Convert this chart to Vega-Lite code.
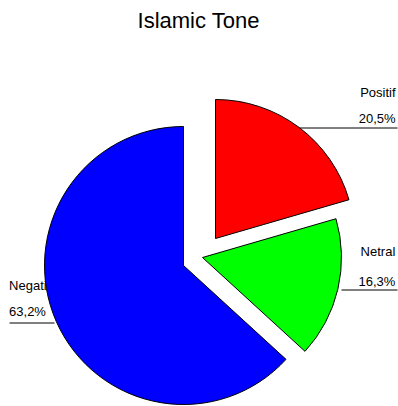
{
  "$schema": "https://vega.github.io/schema/vega-lite/v6.json",
  "width": 398,
  "height": 406,
  "autosize": {"type": "fit", "contains": "padding"},
  "padding": {"top": 10, "left": 0, "right": 0, "bottom": 0},
  "background": "white",
  "title": {"text": "Islamic Tone", "fontSize": 22, "font": "Liberation Sans", "fontWeight": "normal", "color": "#000000", "anchor": "middle", "offset": 0},
  "config": {
    "view": {"stroke": null},
    "locale": {"number": {"decimal": ",", "thousands": ".", "grouping": [3], "currency": ["", " €"]}}
  },
  "data": {"values": [
    {"category": "Positif", "share": 0.205},
    {"category": "Netral", "share": 0.163},
    {"category": "Negatif", "share": 0.632}
  ]},
  "transform": [
    {"stack": "share", "groupby": [], "sort": [{"field": "category", "order": "descending"}], "as": ["s0", "s1"]},
    {"calculate": "(datum.s0 + datum.s1) / 2", "as": "mid"}
  ],
  "layer": [
    {
      "transform": [{"filter": "datum.category === 'Negatif'"}],
      "layer": [
        {"mark": {"type": "text", "radius": 160, "align": "left", "baseline": "alphabetic", "dx": -43, "dy": 6, "fontSize": 13, "font": "Liberation Sans", "color": "#000000"},
         "encoding": {"theta": {"field": "mid", "type": "quantitative", "stack": null, "scale": {"domain": [0, 1]}}, "text": {"field": "category"}}},
        {"mark": {"type": "text", "radius": 160, "align": "left", "baseline": "alphabetic", "dx": -43, "dy": 32, "fontSize": 13, "font": "Liberation Sans", "color": "#000000"},
         "encoding": {"theta": {"field": "mid", "type": "quantitative", "stack": null, "scale": {"domain": [0, 1]}}, "text": {"field": "share", "type": "quantitative", "format": ".1%"}}},
        {"mark": {"type": "rule", "color": "#000000", "strokeWidth": 1},
         "encoding": {"x": {"value": {"expr": "width/2 - 189"}}, "x2": {"value": {"expr": "width/2 - 144"}}, "y": {"value": {"expr": "height/2 + 103.5"}}}}
      ]
    },
    {
      "transform": [{"filter": "datum.category === 'Positif'"}],
      "layer": [
        {"mark": {"type": "text", "radius": 160, "align": "right", "baseline": "alphabetic", "dx": 101, "dy": 5, "fontSize": 13, "font": "Liberation Sans", "color": "#000000"},
         "encoding": {"theta": {"field": "mid", "type": "quantitative", "stack": null, "scale": {"domain": [0, 1]}}, "text": {"field": "category"}}},
        {"mark": {"type": "text", "radius": 160, "align": "right", "baseline": "alphabetic", "dx": 101, "dy": 31, "fontSize": 13, "font": "Liberation Sans", "color": "#000000"},
         "encoding": {"theta": {"field": "mid", "type": "quantitative", "stack": null, "scale": {"domain": [0, 1]}}, "text": {"field": "share", "type": "quantitative", "format": ".1%"}}},
        {"mark": {"type": "rule", "color": "#000000", "strokeWidth": 1},
         "encoding": {"x": {"value": {"expr": "width/2 + 101"}}, "x2": {"value": {"expr": "width/2 + 199"}}, "y": {"value": {"expr": "height/2 - 91.5"}}}}
      ]
    },
    {
      "transform": [{"filter": "datum.category === 'Netral'"}],
      "layer": [
        {"mark": {"type": "text", "radius": 160, "align": "right", "baseline": "alphabetic", "dx": 41, "dy": 0, "fontSize": 13, "font": "Liberation Sans", "color": "#000000"},
         "encoding": {"theta": {"field": "mid", "type": "quantitative", "stack": null, "scale": {"domain": [0, 1]}}, "text": {"field": "category"}}},
        {"mark": {"type": "text", "radius": 160, "align": "right", "baseline": "alphabetic", "dx": 41, "dy": 30, "fontSize": 13, "font": "Liberation Sans", "color": "#000000"},
         "encoding": {"theta": {"field": "mid", "type": "quantitative", "stack": null, "scale": {"domain": [0, 1]}}, "text": {"field": "share", "type": "quantitative", "format": ".1%"}}},
        {"mark": {"type": "rule", "color": "#000000", "strokeWidth": 1},
         "encoding": {"x": {"value": {"expr": "width/2 + 143"}}, "x2": {"value": {"expr": "width/2 + 199"}}, "y": {"value": {"expr": "height/2 + 70.5"}}}}
      ]
    },
    {
      "transform": [{"filter": "datum.category === 'Negatif'"}],
      "mark": {"type": "arc", "outerRadius": 139, "stroke": "#000000", "strokeWidth": 1, "xOffset": -15, "yOffset": 46},
      "encoding": {
        "theta": {"field": "s0", "type": "quantitative", "stack": null, "scale": {"domain": [0, 1]}},
        "theta2": {"field": "s1"},
        "color": {"field": "category", "type": "nominal", "scale": {"domain": ["Positif", "Netral", "Negatif"], "range": ["#ff0000", "#00ff00", "#0000ff"]}, "legend": null}
      }
    },
    {
      "transform": [{"filter": "datum.category === 'Positif'"}],
      "mark": {"type": "arc", "outerRadius": 139, "stroke": "#000000", "strokeWidth": 1, "xOffset": 17, "yOffset": 19},
      "encoding": {
        "theta": {"field": "s0", "type": "quantitative", "stack": null, "scale": {"domain": [0, 1]}},
        "theta2": {"field": "s1"},
        "color": {"field": "category", "type": "nominal", "scale": {"domain": ["Positif", "Netral", "Negatif"], "range": ["#ff0000", "#00ff00", "#0000ff"]}, "legend": null}
      }
    },
    {
      "transform": [{"filter": "datum.category === 'Netral'"}],
      "mark": {"type": "arc", "outerRadius": 139, "stroke": "#000000", "strokeWidth": 1, "xOffset": 4, "yOffset": 38},
      "encoding": {
        "theta": {"field": "s0", "type": "quantitative", "stack": null, "scale": {"domain": [0, 1]}},
        "theta2": {"field": "s1"},
        "color": {"field": "category", "type": "nominal", "scale": {"domain": ["Positif", "Netral", "Negatif"], "range": ["#ff0000", "#00ff00", "#0000ff"]}, "legend": null}
      }
    }
  ]
}
